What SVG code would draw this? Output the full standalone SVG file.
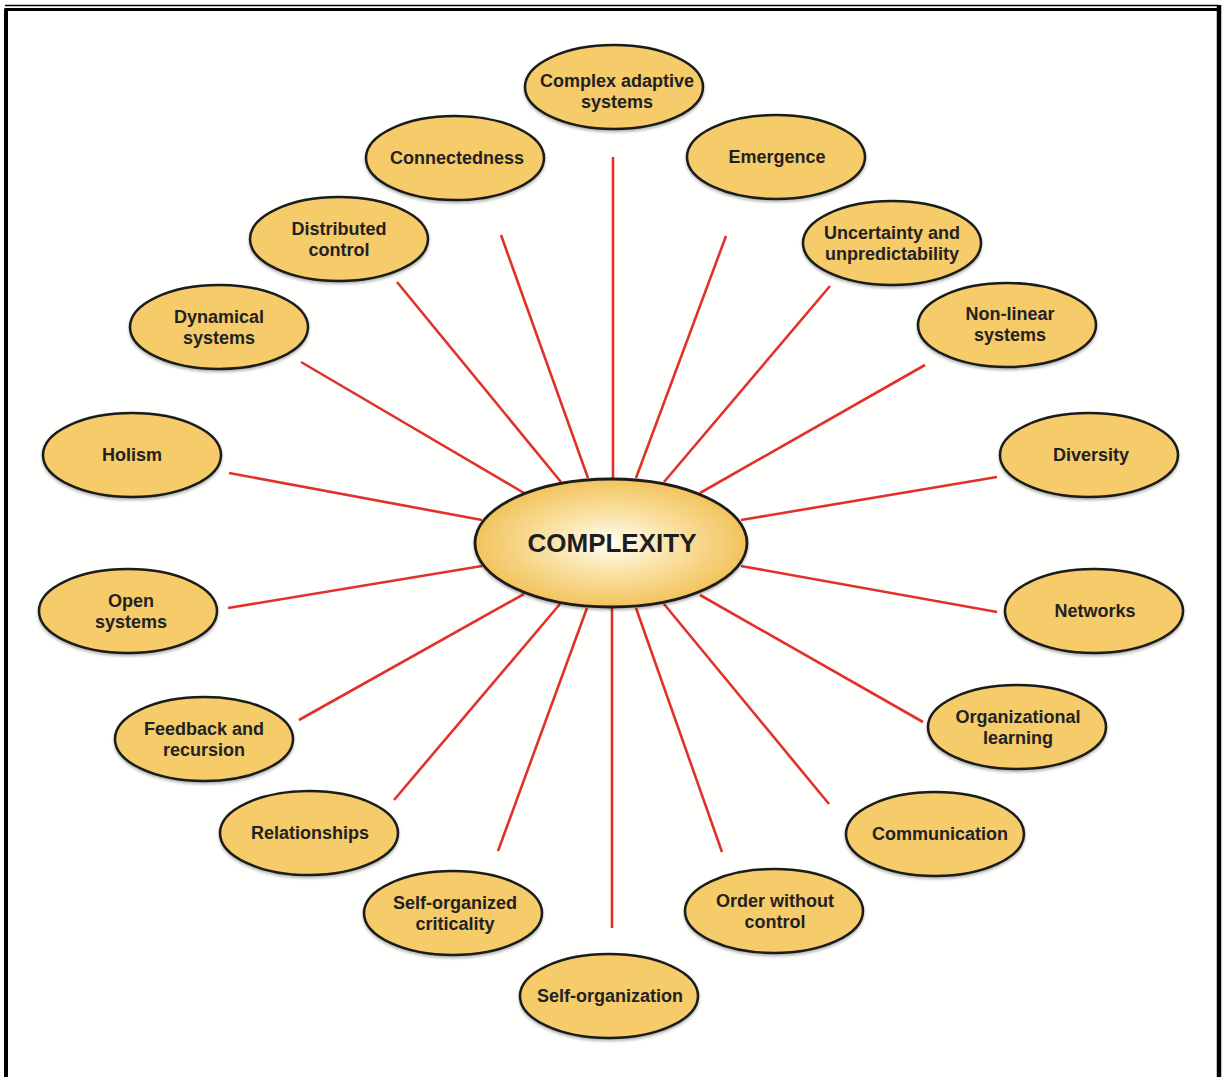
<svg xmlns="http://www.w3.org/2000/svg" width="1222" height="1077" viewBox="0 0 1222 1077">
<defs>
<radialGradient id="cg" cx="0.5" cy="0.5" r="0.5">
<stop offset="0" stop-color="#FFFDF5"/>
<stop offset="0.45" stop-color="#FAE3A8"/>
<stop offset="1" stop-color="#F2C35C"/>
</radialGradient>
<filter id="sh" x="-10%" y="-10%" width="120%" height="130%">
<feGaussianBlur in="SourceAlpha" stdDeviation="1.5"/>
<feOffset dx="0" dy="2" result="b"/>
<feComponentTransfer><feFuncA type="linear" slope="0.3"/></feComponentTransfer>
<feMerge><feMergeNode/><feMergeNode in="SourceGraphic"/></feMerge>
</filter>
</defs>
<style>
.n ellipse{fill:#F6CB6B;stroke:#1A1A1A;stroke-width:2.5}
.t{font-family:"Liberation Sans",Arial,sans-serif;font-weight:bold;font-size:18px;fill:#222;text-anchor:middle}
.c line{stroke:#E0312B;stroke-width:2.6}
</style>
<rect x="0" y="0" width="1222" height="1077" fill="#FFFFFD"/>
<g id="frame">
<line x1="5" y1="5.5" x2="1219" y2="5.5" stroke="#000" stroke-width="1.5"/>
<path d="M6 1077 V9.5 H1219" fill="none" stroke="#000" stroke-width="3"/>
<line x1="6" y1="9" x2="6" y2="1077" stroke="#000" stroke-width="4"/>
<line x1="1219" y1="5" x2="1219" y2="1077" stroke="#000" stroke-width="4.5"/>
</g>
<g id="connectors" class="c">
<line x1="613" y1="157" x2="613" y2="478"/>
<line x1="726" y1="236" x2="636" y2="478"/>
<line x1="830" y1="286" x2="664" y2="482"/>
<line x1="925" y1="365" x2="700" y2="493"/>
<line x1="997" y1="477" x2="741" y2="520"/>
<line x1="997" y1="612" x2="741" y2="566"/>
<line x1="923" y1="722" x2="700" y2="595"/>
<line x1="829" y1="804" x2="664" y2="604"/>
<line x1="722" y1="852" x2="636" y2="608"/>
<line x1="612" y1="928" x2="612" y2="608"/>
<line x1="498" y1="851" x2="587" y2="608"/>
<line x1="394" y1="800" x2="560" y2="604"/>
<line x1="299" y1="720" x2="524" y2="594"/>
<line x1="228" y1="608" x2="482" y2="566"/>
<line x1="229" y1="473" x2="482" y2="520"/>
<line x1="301" y1="362" x2="524" y2="493"/>
<line x1="397" y1="282" x2="561" y2="482"/>
<line x1="501" y1="235" x2="588" y2="478"/>
</g>
<g id="complexity">
<ellipse cx="611" cy="543" rx="136" ry="64" fill="url(#cg)" stroke="#1A1A1A" stroke-width="2.8" filter="url(#sh)"/>
<text x="612" y="552" font-family="'Liberation Sans',Arial,sans-serif" font-weight="bold" font-size="26" fill="#1E1E1E" text-anchor="middle">COMPLEXITY</text>
</g>
<g id="complex-adaptive-systems" class="n"><ellipse cx="614" cy="87" rx="89" ry="42" filter="url(#sh)"/><text class="t" x="617" y="87">Complex adaptive</text><text class="t" x="617" y="108">systems</text></g>
<g id="emergence" class="n"><ellipse cx="776" cy="157" rx="89" ry="42" filter="url(#sh)"/><text class="t" x="777" y="163">Emergence</text></g>
<g id="uncertainty" class="n"><ellipse cx="892" cy="243" rx="89" ry="42" filter="url(#sh)"/><text class="t" x="892" y="239">Uncertainty and</text><text class="t" x="892" y="260">unpredictability</text></g>
<g id="non-linear" class="n"><ellipse cx="1007" cy="325" rx="89" ry="42" filter="url(#sh)"/><text class="t" x="1010" y="320">Non-linear</text><text class="t" x="1010" y="341">systems</text></g>
<g id="diversity" class="n"><ellipse cx="1089" cy="455" rx="89" ry="42" filter="url(#sh)"/><text class="t" x="1091" y="461">Diversity</text></g>
<g id="networks" class="n"><ellipse cx="1094" cy="611" rx="89" ry="42" filter="url(#sh)"/><text class="t" x="1095" y="617">Networks</text></g>
<g id="organizational-learning" class="n"><ellipse cx="1017" cy="727" rx="89" ry="42" filter="url(#sh)"/><text class="t" x="1018" y="723">Organizational</text><text class="t" x="1018" y="744">learning</text></g>
<g id="communication" class="n"><ellipse cx="935" cy="834" rx="89" ry="42" filter="url(#sh)"/><text class="t" x="940" y="840">Communication</text></g>
<g id="order-without-control" class="n"><ellipse cx="774" cy="911" rx="89" ry="42" filter="url(#sh)"/><text class="t" x="775" y="907">Order without</text><text class="t" x="775" y="928">control</text></g>
<g id="self-organization" class="n"><ellipse cx="609" cy="996" rx="89" ry="42" filter="url(#sh)"/><text class="t" x="610" y="1002">Self-organization</text></g>
<g id="self-organized-criticality" class="n"><ellipse cx="453" cy="913" rx="89" ry="42" filter="url(#sh)"/><text class="t" x="455" y="909">Self-organized</text><text class="t" x="455" y="930">criticality</text></g>
<g id="relationships" class="n"><ellipse cx="309" cy="833" rx="89" ry="42" filter="url(#sh)"/><text class="t" x="310" y="839">Relationships</text></g>
<g id="feedback-and-recursion" class="n"><ellipse cx="204" cy="739" rx="89" ry="42" filter="url(#sh)"/><text class="t" x="204" y="735">Feedback and</text><text class="t" x="204" y="756">recursion</text></g>
<g id="open-systems" class="n"><ellipse cx="128" cy="611" rx="89" ry="42" filter="url(#sh)"/><text class="t" x="131" y="607">Open</text><text class="t" x="131" y="628">systems</text></g>
<g id="holism" class="n"><ellipse cx="132" cy="455" rx="89" ry="42" filter="url(#sh)"/><text class="t" x="132" y="461">Holism</text></g>
<g id="dynamical-systems" class="n"><ellipse cx="219" cy="327" rx="89" ry="42" filter="url(#sh)"/><text class="t" x="219" y="323">Dynamical</text><text class="t" x="219" y="344">systems</text></g>
<g id="distributed-control" class="n"><ellipse cx="339" cy="239" rx="89" ry="42" filter="url(#sh)"/><text class="t" x="339" y="235">Distributed</text><text class="t" x="339" y="256">control</text></g>
<g id="connectedness" class="n"><ellipse cx="455" cy="158" rx="89" ry="42" filter="url(#sh)"/><text class="t" x="457" y="164">Connectedness</text></g>
</svg>
